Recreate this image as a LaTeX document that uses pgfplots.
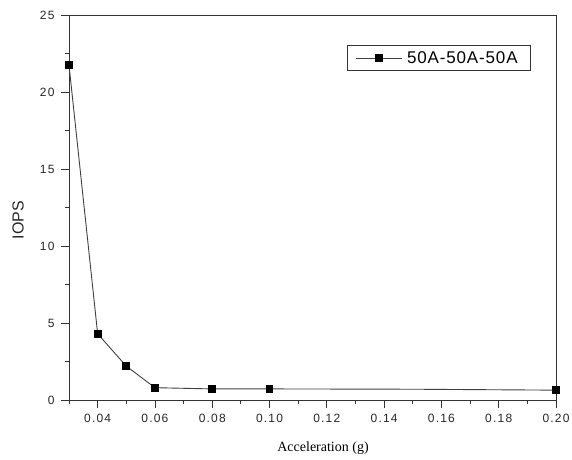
\documentclass[border=0pt]{standalone}
\usepackage{fontspec}
\setmainfont{Liberation Serif}
\setsansfont{Liberation Sans}
\newfontfamily\ticksf[LetterSpace=10]{Liberation Sans}
\newfontfamily\legsf[LetterSpace=5]{Liberation Sans}
\usepackage{pgfplots}
\pgfplotsset{compat=1.18}

\begin{document}
\begin{tikzpicture}
\path[use as bounding box] (-69pt,-59pt) rectangle (503pt,400pt);
\begin{axis}[
  at={(0pt,0pt)}, anchor=south west,
  scale only axis,
  width=487pt, height=385pt,
  xmin=0.03, xmax=0.20,
  ymin=0, ymax=25,
  xtick={0.04,0.06,...,0.20},
  xticklabels={0.04,0.06,0.08,0.10,0.12,0.14,0.16,0.18,0.20},
  minor xtick={0.03,0.05,...,0.19},
  ytick={0,5,10,15,20,25},
  minor ytick={2.5,7.5,12.5,17.5,22.5},
  tick pos=left,
  tick align=outside,
  major tick length=8pt,
  minor tick length=4pt,
  every tick/.style={black!80, line width=0.8pt},
  axis line style={black!80, line width=1pt},
  /pgf/number format/assume math mode=true,
  ticklabel style={font=\ticksf\fontsize{12}{12}\selectfont, black!85},
  xticklabel style={yshift=-3pt},
  yticklabel style={xshift=-3pt},
  xlabel={Acceleration (g)},
  ylabel={IOPS},
  xlabel style={font=\fontsize{14}{14}\selectfont, at={(axis description cs:0.5216,-0.1247)}, anchor=center},
  ylabel style={font=\sffamily\fontsize{16}{16}\selectfont, black!85, at={(axis description cs:-0.1047,0.4675)}, anchor=center},
  legend style={at={(0.9487,0.922)}, anchor=north east, draw=black!80, line width=0.8pt,
    font=\legsf\fontsize{17}{17}\selectfont, inner xsep=8pt, inner ysep=4pt,
    nodes={inner xsep=5pt}},
  legend image code/.code={
    \draw[#1, mark indices={2}] plot coordinates {(0pt,0pt) (23pt,0pt) (46pt,0pt)};
  },
]
\addplot[black!75, line width=0.9pt,
  mark=square*, mark size=3.4pt,
  mark options={solid, fill=black, draw=black},
  mark indices={1,2,3,4,5,6,8}]
  coordinates {
    (0.03,21.75)
    (0.04,4.30)
    (0.05,2.20)
    (0.06,0.80)
    (0.08,0.72)
    (0.10,0.72)
    (0.15,0.70)
    (0.20,0.64)
  };
\addlegendentry{50A-50A-50A}
\end{axis}
\end{tikzpicture}
\end{document}
